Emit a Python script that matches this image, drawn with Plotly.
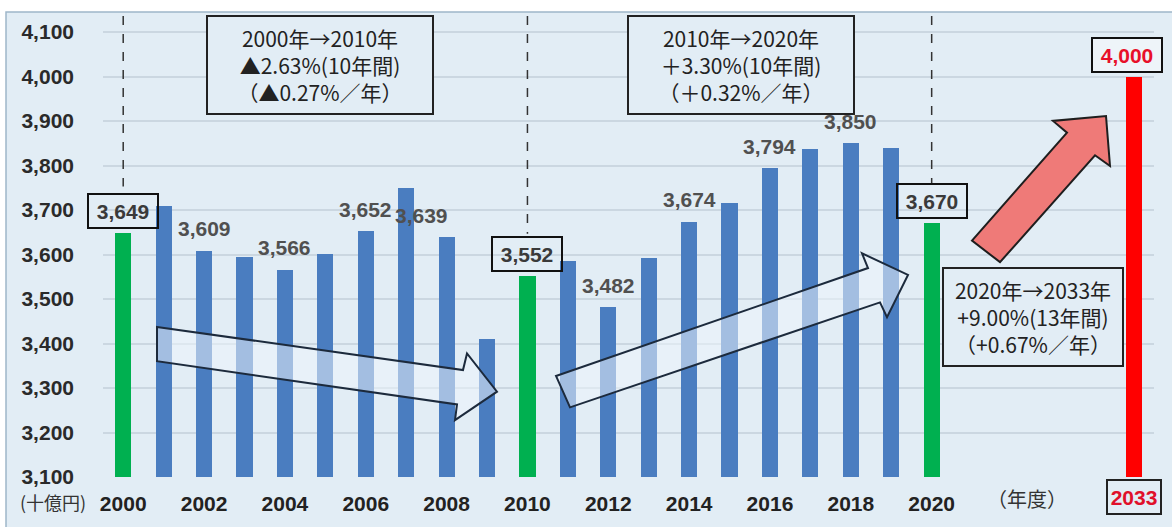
import plotly.graph_objects as go

# ---------------- data ----------------
years = [2000, 2001, 2002, 2003, 2004, 2005, 2006, 2007, 2008, 2009, 2010,
         2011, 2012, 2013, 2014, 2015, 2016, 2017, 2018, 2019, 2020, 2033]
values = [3649, 3710, 3609, 3595, 3566, 3602, 3652, 3750, 3639, 3411, 3552,
          3586, 3482, 3593, 3674, 3717, 3794, 3838, 3850, 3839, 3670, 4000]
labeled_years = [2000, 2002, 2004, 2006, 2008, 2010, 2012, 2014, 2016, 2018, 2020, 2033]
boxed_years = [2000, 2010, 2020]
forecast_year = 2033
milestone_years = [2000, 2010, 2020]
x_tick_years = [2000, 2002, 2004, 2006, 2008, 2010, 2012, 2014, 2016, 2018, 2020]
y_ticks = [3100, 3200, 3300, 3400, 3500, 3600, 3700, 3800, 3900, 4000, 4100]
box_texts = [
    "2000年→2010年<br>▲2.63%(10年間)<br>（▲0.27%／年）",
    "2010年→2020年<br>＋3.30%(10年間)<br>（＋0.32%／年）",
    "2020年→2033年<br>+9.00%(13年間)<br>（+0.67%／年）",
]
unit_label = "(十億円)"
year_label = "（年度）"

# ---------------- layout constants ----------------
W, H = 1172, 527
ML, MR, MT, MB = 103, 18, 12, 41
PW, PH = W - ML - MR, H - MT - MB
GAP_POS = 25
Y_MIN = 3100
Y_MAX = Y_MIN + PH / 0.4535

BLUE = "#4a7dc0"
GREEN = "#00b050"
RED = "#ff0000"
BG = "#e2edf5"
NUM_FONT = "Liberation Sans Narrow, Liberation Sans, Noto Sans CJK JP, sans-serif"
JP_FONT = "Liberation Sans Narrow, Noto Sans CJK JP, sans-serif"


def pos(y):
    return y - 2000 if y <= 2020 else GAP_POS


def fx(px):
    return (px - ML) / PW


def fy(py):
    return (H - MB - py) / PH


def color_for(y):
    if y == forecast_year:
        return RED
    if y in milestone_years:
        return GREEN
    return BLUE


fig = go.Figure()
fig.add_trace(go.Bar(
    x=[pos(y) for y in years],
    y=values,
    marker=dict(color=[color_for(y) for y in years], line=dict(width=0)),
    width=0.4,
    hoverinfo="skip",
))

shapes = []
# outer frame
shapes.append(dict(type="rect", xref="paper", yref="paper",
                   x0=fx(6), x1=fx(1180), y0=fy(12), y1=fy(540),
                   fillcolor=BG, line=dict(color="#9fb6c9", width=1.5),
                   layer="below"))

# dashed milestone lines
for y, bottom in zip(milestone_years, [190, 238, 188]):
    shapes.append(dict(type="line", xref="x", yref="paper",
                       x0=pos(y), x1=pos(y), y0=fy(16), y1=fy(bottom),
                       line=dict(color="#333333", width=1.5, dash="dash"),
                       layer="above"))


def path(points):
    s = "M " + " L ".join(f"{fx(a):.5f},{fy(b):.5f}" for a, b in points) + " Z"
    return s


arrow1 = [(157, 333), (463, 377), (467, 360), (497, 399), (455, 428), (457, 412), (157, 368)]
arrow2 = [(556, 383), (868, 273), (862, 258), (908, 280), (887, 323), (880, 308), (570, 415)]
arrow3 = [(972, 245), (1067, 135), (1053, 123), (1106, 118), (1110, 169), (1095, 158), (1000, 267)]
for pts in (arrow1, arrow2):
    shapes.append(dict(type="path", xref="paper", yref="paper", path=path(pts),
                       fillcolor="rgba(236,244,252,0.55)",
                       line=dict(color="#1c2a3c", width=2), layer="above"))
shapes.append(dict(type="path", xref="paper", yref="paper", path=path(arrow3),
                   fillcolor="#ef7a78", line=dict(color="#1e1e1e", width=2),
                   layer="above"))

annotations = []
# data labels
for y, v in zip(years, values):
    if y not in labeled_years:
        continue
    xshift = -25 if y == 2008 else (-7 if y == forecast_year else 0)
    a = dict(x=pos(y), y=v, xref="x", yref="y", text=f"{v:,}",
             showarrow=False, yanchor="middle", yshift=22, xshift=xshift,
             font=dict(family=NUM_FONT, size=21, color="#505050", weight="bold"))
    if y in boxed_years:
        a.update(bordercolor="#111111", borderwidth=2, borderpad=2,
                 width=64, height=28)
        a["font"] = dict(family=NUM_FONT, size=21, color="#3a3a3a", weight="bold")
    if y == forecast_year:
        a.update(bordercolor="#111111", borderwidth=2, borderpad=2,
                 width=64, height=28, bgcolor="#eef4f9")
        a["font"] = dict(family=NUM_FONT, size=21, color="#e8102a", weight="bold")
    annotations.append(a)

# text boxes
for txt, (cx, cy) in zip(box_texts, [(320, 66), (741, 66), (1033, 323)]):
    wbox = 222 if cx < 900 else 176
    annotations.append(dict(x=fx(cx), y=fy(cy), xref="paper", yref="paper",
                            text=txt, showarrow=False, align="center",
                            xanchor="center", yanchor="middle",
                            width=wbox, height=94, borderpad=1,
                            bordercolor="#222222", borderwidth=2, bgcolor=BG,
                            font=dict(family=JP_FONT, size=21, color="#222222")))

# forecast x label (boxed, red)
annotations.append(dict(x=pos(forecast_year), y=fy(506), xref="x", yref="paper",
                        text=str(forecast_year), showarrow=False,
                        xanchor="center", yanchor="middle",
                        bordercolor="#222222", borderwidth=2, borderpad=1,
                        width=50, height=30,
                        font=dict(family=NUM_FONT, size=21, color="#e0102a", weight="bold")))
annotations.append(dict(x=fx(1027), y=fy(508), xref="paper", yref="paper",
                        text=year_label, showarrow=False, xanchor="center", yanchor="middle",
                        font=dict(family=JP_FONT, size=20, color="#333333")))
annotations.append(dict(x=fx(53), y=fy(511), xref="paper", yref="paper",
                        text=unit_label, showarrow=False, xanchor="center", yanchor="middle",
                        font=dict(family=JP_FONT, size=18, color="#333333")))

fig.update_layout(
    width=W, height=H,
    margin=dict(l=ML, r=MR, t=MT, b=MB, pad=0),
    paper_bgcolor="white",
    plot_bgcolor="rgba(0,0,0,0)",
    showlegend=False,
    shapes=shapes,
    annotations=annotations,
    bargap=0,
)
fig.update_xaxes(
    range=[-0.5, 25.5], showgrid=False, zeroline=False, showline=False,
    tickmode="array", tickvals=[pos(y) for y in x_tick_years],
    ticktext=[str(y) for y in x_tick_years], ticks="",
    tickfont=dict(family=NUM_FONT, size=21, color="#222222", weight="bold"),
    ticklabelstandoff=12,
)
fig.update_yaxes(
    range=[Y_MIN, Y_MAX], showgrid=True, gridcolor="#cbd7e1", gridwidth=1.5,
    zeroline=False, showline=False,
    tickmode="array", tickvals=y_ticks, ticktext=[f"{v:,}" for v in y_ticks],
    ticks="", ticklabelstandoff=28,
    tickfont=dict(family=NUM_FONT, size=21, color="#2a2a2a", weight="bold"),
)

fig.write_html("out.html")
